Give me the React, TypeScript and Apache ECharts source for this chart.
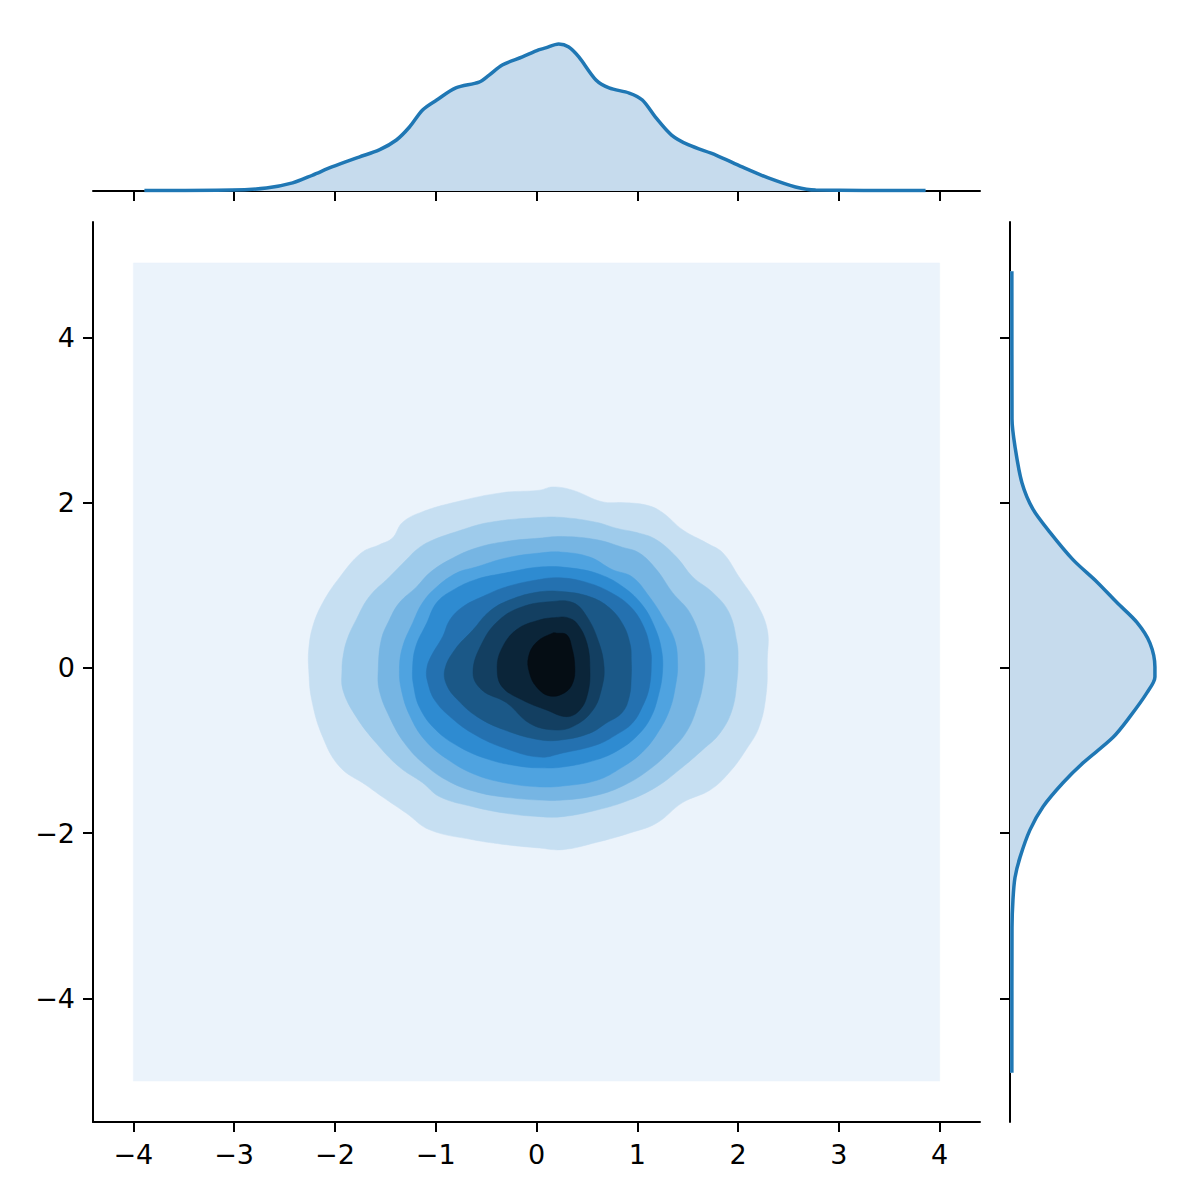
import React, { useEffect, useRef } from "react";
import * as echarts from "echarts";

// ---------- data ----------
const xTicks = [-4, -3, -2, -1, 0, 1, 2, 3, 4];
const yTicks = [-4, -2, 0, 2, 4];

const levelColors = [
  "#ebf3fb", "#c6dff2", "#9ecbeb", "#76b5e3", "#4fa3e0",
  "#2e8bd1", "#2471b0", "#1b5887", "#133f61", "#0b2539", "#050d14",
];

const kdeGrid: number[][] = [[-4, -5], [4, -5], [4, 4.9], [-4, 4.9]];

const contour1: number[][] = [
  [0.03, 2.15], [-0.34, 2.12], [-0.79, 2.01], [-1.13, 1.89], [-1.33, 1.76], [-1.43, 1.57],
  [-1.56, 1.49], [-1.74, 1.39], [-1.95, 1.1], [-2.12, 0.79], [-2.22, 0.5], [-2.26, 0.22],
  [-2.26, -0.02], [-2.23, -0.39], [-2.12, -0.84], [-1.95, -1.2], [-1.69, -1.42], [-1.53, -1.56],
  [-1.29, -1.76], [-1.06, -1.96], [-0.63, -2.08], [-0.3, -2.14], [0.03, -2.18], [0.26, -2.2],
  [0.6, -2.11], [0.92, -2.0], [1.19, -1.88], [1.45, -1.63], [1.72, -1.48], [1.91, -1.27],
  [2.08, -0.99], [2.21, -0.71], [2.28, -0.3], [2.29, 0.1], [2.29, 0.46], [2.18, 0.79],
  [2.01, 1.1], [1.85, 1.39], [1.69, 1.51], [1.45, 1.67], [1.25, 1.88], [1.09, 1.97],
  [0.85, 2.0], [0.65, 2.01], [0.36, 2.15], [0.16, 2.19],
];
const contour2: number[][] = [
  [0.03, 1.82], [-0.47, 1.76], [-0.79, 1.65], [-1.06, 1.53], [-1.19, 1.43], [-1.29, 1.31],
  [-1.46, 1.1], [-1.66, 0.86], [-1.79, 0.58], [-1.88, 0.34], [-1.92, 0.13], [-1.93, -0.02],
  [-1.92, -0.27], [-1.79, -0.59], [-1.59, -0.91], [-1.36, -1.2], [-1.13, -1.39], [-0.96, -1.56],
  [-0.63, -1.68], [-0.3, -1.76], [0.03, -1.8], [0.26, -1.8], [0.6, -1.72], [0.92, -1.6],
  [1.19, -1.44], [1.42, -1.23], [1.65, -0.99], [1.82, -0.79], [1.94, -0.51], [1.99, -0.15],
  [2.0, 0.1], [1.99, 0.3], [1.91, 0.67], [1.75, 0.91], [1.55, 1.1], [1.39, 1.34],
  [1.19, 1.55], [1.02, 1.63], [0.79, 1.69], [0.6, 1.76], [0.26, 1.82],
];
const contour3: number[][] = [
  [0.03, 1.57], [-0.3, 1.53], [-0.6, 1.45], [-0.86, 1.31], [-1.06, 1.15], [-1.19, 0.98],
  [-1.36, 0.79], [-1.46, 0.58], [-1.54, 0.34], [-1.57, -0.02], [-1.56, -0.27], [-1.46, -0.59],
  [-1.31, -0.91], [-1.11, -1.17], [-0.86, -1.38], [-0.57, -1.51], [-0.27, -1.57], [0.03, -1.6],
  [0.26, -1.6], [0.6, -1.54], [0.87, -1.42], [1.12, -1.23], [1.34, -0.99], [1.5, -0.75],
  [1.6, -0.45], [1.65, -0.21], [1.67, 0.04], [1.64, 0.3], [1.52, 0.67], [1.35, 0.91],
  [1.19, 1.19], [1.02, 1.39], [0.85, 1.46], [0.6, 1.55], [0.26, 1.59],
];
const contour4: number[][] = [
  [0.03, 1.39], [-0.3, 1.33], [-0.6, 1.22], [-0.79, 1.15], [-0.99, 0.98], [-1.13, 0.79],
  [-1.23, 0.54], [-1.33, 0.25], [-1.36, -0.02], [-1.34, -0.27], [-1.26, -0.57], [-1.11, -0.87],
  [-0.88, -1.11], [-0.59, -1.3], [-0.27, -1.4], [0.03, -1.44], [0.26, -1.43], [0.6, -1.36],
  [0.84, -1.21], [1.05, -1.02], [1.2, -0.79], [1.32, -0.51], [1.38, -0.21], [1.4, 0.04],
  [1.37, 0.34], [1.25, 0.62], [1.12, 0.86], [0.95, 1.1], [0.75, 1.19], [0.53, 1.34], [0.26, 1.4],
];
const contour5: number[][] = [
  [0.03, 1.22], [-0.3, 1.15], [-0.6, 1.07], [-0.83, 0.94], [-0.99, 0.79], [-1.09, 0.54],
  [-1.2, 0.25], [-1.23, -0.02], [-1.22, -0.21], [-1.16, -0.48], [-1.0, -0.75], [-0.76, -0.96],
  [-0.47, -1.11], [-0.17, -1.19], [0.03, -1.21], [0.26, -1.2], [0.6, -1.11], [0.82, -0.99],
  [1.0, -0.82], [1.13, -0.61], [1.21, -0.33], [1.25, -0.05], [1.24, 0.22], [1.17, 0.5],
  [1.05, 0.76], [0.87, 0.97], [0.63, 1.13], [0.33, 1.21],
];
const contour6: number[][] = [
  [0.03, 1.07], [-0.3, 0.98], [-0.54, 0.86], [-0.73, 0.74], [-0.86, 0.58], [-0.93, 0.38],
  [-1.05, 0.13], [-1.09, -0.02], [-1.08, -0.17], [-1.01, -0.39], [-0.84, -0.61], [-0.61, -0.81],
  [-0.32, -0.97], [0.03, -1.08], [0.26, -1.03], [0.6, -0.93], [0.79, -0.81], [0.95, -0.67],
  [1.05, -0.47], [1.12, -0.23], [1.14, 0.1], [1.13, 0.22], [1.07, 0.48], [0.94, 0.73],
  [0.74, 0.91], [0.48, 1.04], [0.23, 1.09],
];
const contour7: number[][] = [
  [0.03, 0.92], [-0.27, 0.82], [-0.47, 0.68], [-0.63, 0.46], [-0.81, 0.22], [-0.91, -0.02],
  [-0.89, -0.21], [-0.78, -0.39], [-0.59, -0.59], [-0.32, -0.75], [0.03, -0.87], [0.26, -0.87],
  [0.53, -0.79], [0.69, -0.67], [0.85, -0.54], [0.92, -0.35], [0.94, -0.11], [0.94, 0.1],
  [0.93, 0.28], [0.86, 0.52], [0.72, 0.73], [0.53, 0.86], [0.28, 0.92],
];
const contour8: number[][] = [
  [0.13, 0.8], [-0.14, 0.74], [-0.37, 0.58], [-0.54, 0.3], [-0.63, -0.06], [-0.54, -0.27],
  [-0.3, -0.42], [-0.07, -0.67], [0.16, -0.75], [0.36, -0.71], [0.56, -0.51], [0.65, -0.23],
  [0.67, 0.01], [0.62, 0.3], [0.5, 0.62], [0.36, 0.79],
];
const contour9: number[][] = [
  [0.2, 0.61], [0.03, 0.58], [-0.2, 0.46], [-0.35, 0.22], [-0.39, -0.02], [-0.34, -0.23],
  [-0.14, -0.39], [0.1, -0.51], [0.3, -0.59], [0.43, -0.51], [0.51, -0.3], [0.53, -0.02],
  [0.5, 0.3], [0.4, 0.54], [0.3, 0.61],
];
const contour10: number[][] = [
  [0.16, 0.42], [0.0, 0.31], [-0.08, 0.13], [-0.07, -0.06], [0.0, -0.23], [0.13, -0.34],
  [0.28, -0.3], [0.36, -0.18], [0.38, 0.01], [0.35, 0.25], [0.3, 0.4], [0.2, 0.42],
];

const topX = [
  -3.89, -3.02, -2.68, -2.42, -2.22, -2.03, -1.76, -1.56, -1.39, -1.26, -1.13, -0.99, -0.8,
  -0.57, -0.47, -0.34, -0.14, 0.02, 0.09, 0.22, 0.32, 0.42, 0.59, 0.72, 0.92, 1.05, 1.18,
  1.34, 1.51, 1.78, 2.04, 2.3, 2.57, 2.77, 3.86,
];
const topDensity = [
  0.003, 0.006, 0.019, 0.052, 0.103, 0.155, 0.219, 0.265, 0.329, 0.413, 0.523, 0.587, 0.665,
  0.703, 0.748, 0.813, 0.865, 0.91, 0.923, 0.948, 0.929, 0.865, 0.716, 0.665, 0.632, 0.587, 0.477,
  0.361, 0.297, 0.232, 0.155, 0.084, 0.026, 0.006, 0.003,
];

const rightY = [
  4.8, 3.01, 2.68, 2.24, 1.92, 1.64, 1.31, 1.04, 0.79, 0.55, 0.3, 0.01, -0.11, -0.3, -0.59,
  -0.84, -1.15, -1.39, -1.68, -1.96, -2.29, -2.54, -2.81, -3.14, -4.9,
];
const rightDensity = [
  0.012, 0.013, 0.032, 0.077, 0.148, 0.258, 0.406, 0.561, 0.69, 0.819, 0.903, 0.935, 0.935,
  0.884, 0.774, 0.665, 0.471, 0.342, 0.213, 0.129, 0.065, 0.032, 0.019, 0.013, 0.012,
];

// ---------- chart ----------
const X_MIN = -4.4, X_MAX = 4.4;
const Y_MIN = -5.495, Y_MAX = 5.395;
const FONT = "DejaVu Sans";
const lineColor = "#1f77b4";
const fillColor = "#c6dbed";

const fmt = (v: number) => (v < 0 ? "\u2212" + Math.abs(v) : String(v));

export default function App() {
  const ref = useRef<HTMLDivElement>(null);
  useEffect(() => {
    if (!ref.current) return;
    const chart = echarts.init(ref.current, undefined, { renderer: "svg" });
    const polygons = [kdeGrid, contour1, contour2, contour3, contour4, contour5,
      contour6, contour7, contour8, contour9, contour10];

    const axisLine = { show: true, onZero: false, lineStyle: { color: "#000", width: 2 } };
    const tick = (vals: number[]) => ({
      show: true, length: 10, customValues: vals, lineStyle: { color: "#000", width: 2 },
    });

    chart.setOption({
      animation: false,
      backgroundColor: "#ffffff",
      grid: [
        { left: 93, top: 222, width: 887, height: 900, containLabel: false, outerBoundsMode: "none" },
        { left: 93, top: 36, width: 887, height: 155, containLabel: false, outerBoundsMode: "none" },
        { left: 1010, top: 222, width: 155, height: 900, containLabel: false, outerBoundsMode: "none" },
      ],
      xAxis: [
        {
          gridIndex: 0, type: "value", min: X_MIN, max: X_MAX, position: "bottom",
          axisLine, axisTick: tick(xTicks), splitLine: { show: false },
          axisLabel: {
            customValues: xTicks, formatter: fmt, fontSize: 27, fontFamily: FONT,
            color: "#000", margin: 19,
          },
        },
        {
          gridIndex: 1, type: "value", min: X_MIN, max: X_MAX, position: "bottom",
          axisLine, axisTick: tick(xTicks), splitLine: { show: false },
          axisLabel: { show: false },
        },
        { gridIndex: 2, type: "value", min: 0, max: 1, show: false },
      ],
      yAxis: [
        {
          gridIndex: 0, type: "value", min: Y_MIN, max: Y_MAX, position: "left",
          axisLine, axisTick: tick(yTicks), splitLine: { show: false },
          axisLabel: {
            customValues: yTicks, formatter: fmt, fontSize: 27, fontFamily: FONT,
            color: "#000", margin: 18,
          },
        },
        { gridIndex: 1, type: "value", min: 0, max: 1, show: false },
        {
          gridIndex: 2, type: "value", min: Y_MIN, max: Y_MAX, position: "left",
          axisLine, axisTick: tick(yTicks), splitLine: { show: false },
          axisLabel: { show: false },
        },
      ],
      series: [
        {
          type: "custom",
          xAxisIndex: 0,
          yAxisIndex: 0,
          silent: true,
          data: polygons.map((p) => [p[0][0], p[0][1]]),
          renderItem: (params: any, api: any) => {
            const i = params.dataIndex;
            const pts = polygons[i].map((p) => api.coord(p));
            return {
              type: "polygon",
              z2: i,
              shape: { points: pts, smooth: i === 0 ? 0 : 0.4 },
              style: { fill: levelColors[i], stroke: levelColors[i], lineWidth: 0.5 },
            };
          },
        },
        {
          type: "line",
          xAxisIndex: 1,
          yAxisIndex: 1,
          data: topX.map((x, i) => [x, topDensity[i]]),
          showSymbol: false,
          smooth: 0.3,
          lineStyle: { color: lineColor, width: 3.5 },
          areaStyle: { color: fillColor, opacity: 1, origin: "start" },
          silent: true,
        },
        {
          type: "custom",
          xAxisIndex: 2,
          yAxisIndex: 2,
          silent: true,
          data: [[0, 0]],
          renderItem: (params: any, api: any) => {
            const pts = [api.coord([0, rightY[0]])]
              .concat(rightY.map((y, i) => api.coord([rightDensity[i], y])))
              .concat([api.coord([0, rightY[rightY.length - 1]])]);
            return {
              type: "polygon",
              shape: { points: pts },
              style: { fill: fillColor },
            };
          },
        },
        {
          type: "line",
          xAxisIndex: 2,
          yAxisIndex: 2,
          data: rightY.map((y, i) => [rightDensity[i], y]),
          showSymbol: false,
          smooth: 0.3,
          lineStyle: { color: lineColor, width: 3.5 },
          silent: true,
        },
      ],
    });
    return () => chart.dispose();
  }, []);
  return (
    <div
      ref={ref}
      style={{ position: "fixed", left: 0, top: 0, width: 1200, height: 1200, background: "#fff" }}
    />
  );
}
